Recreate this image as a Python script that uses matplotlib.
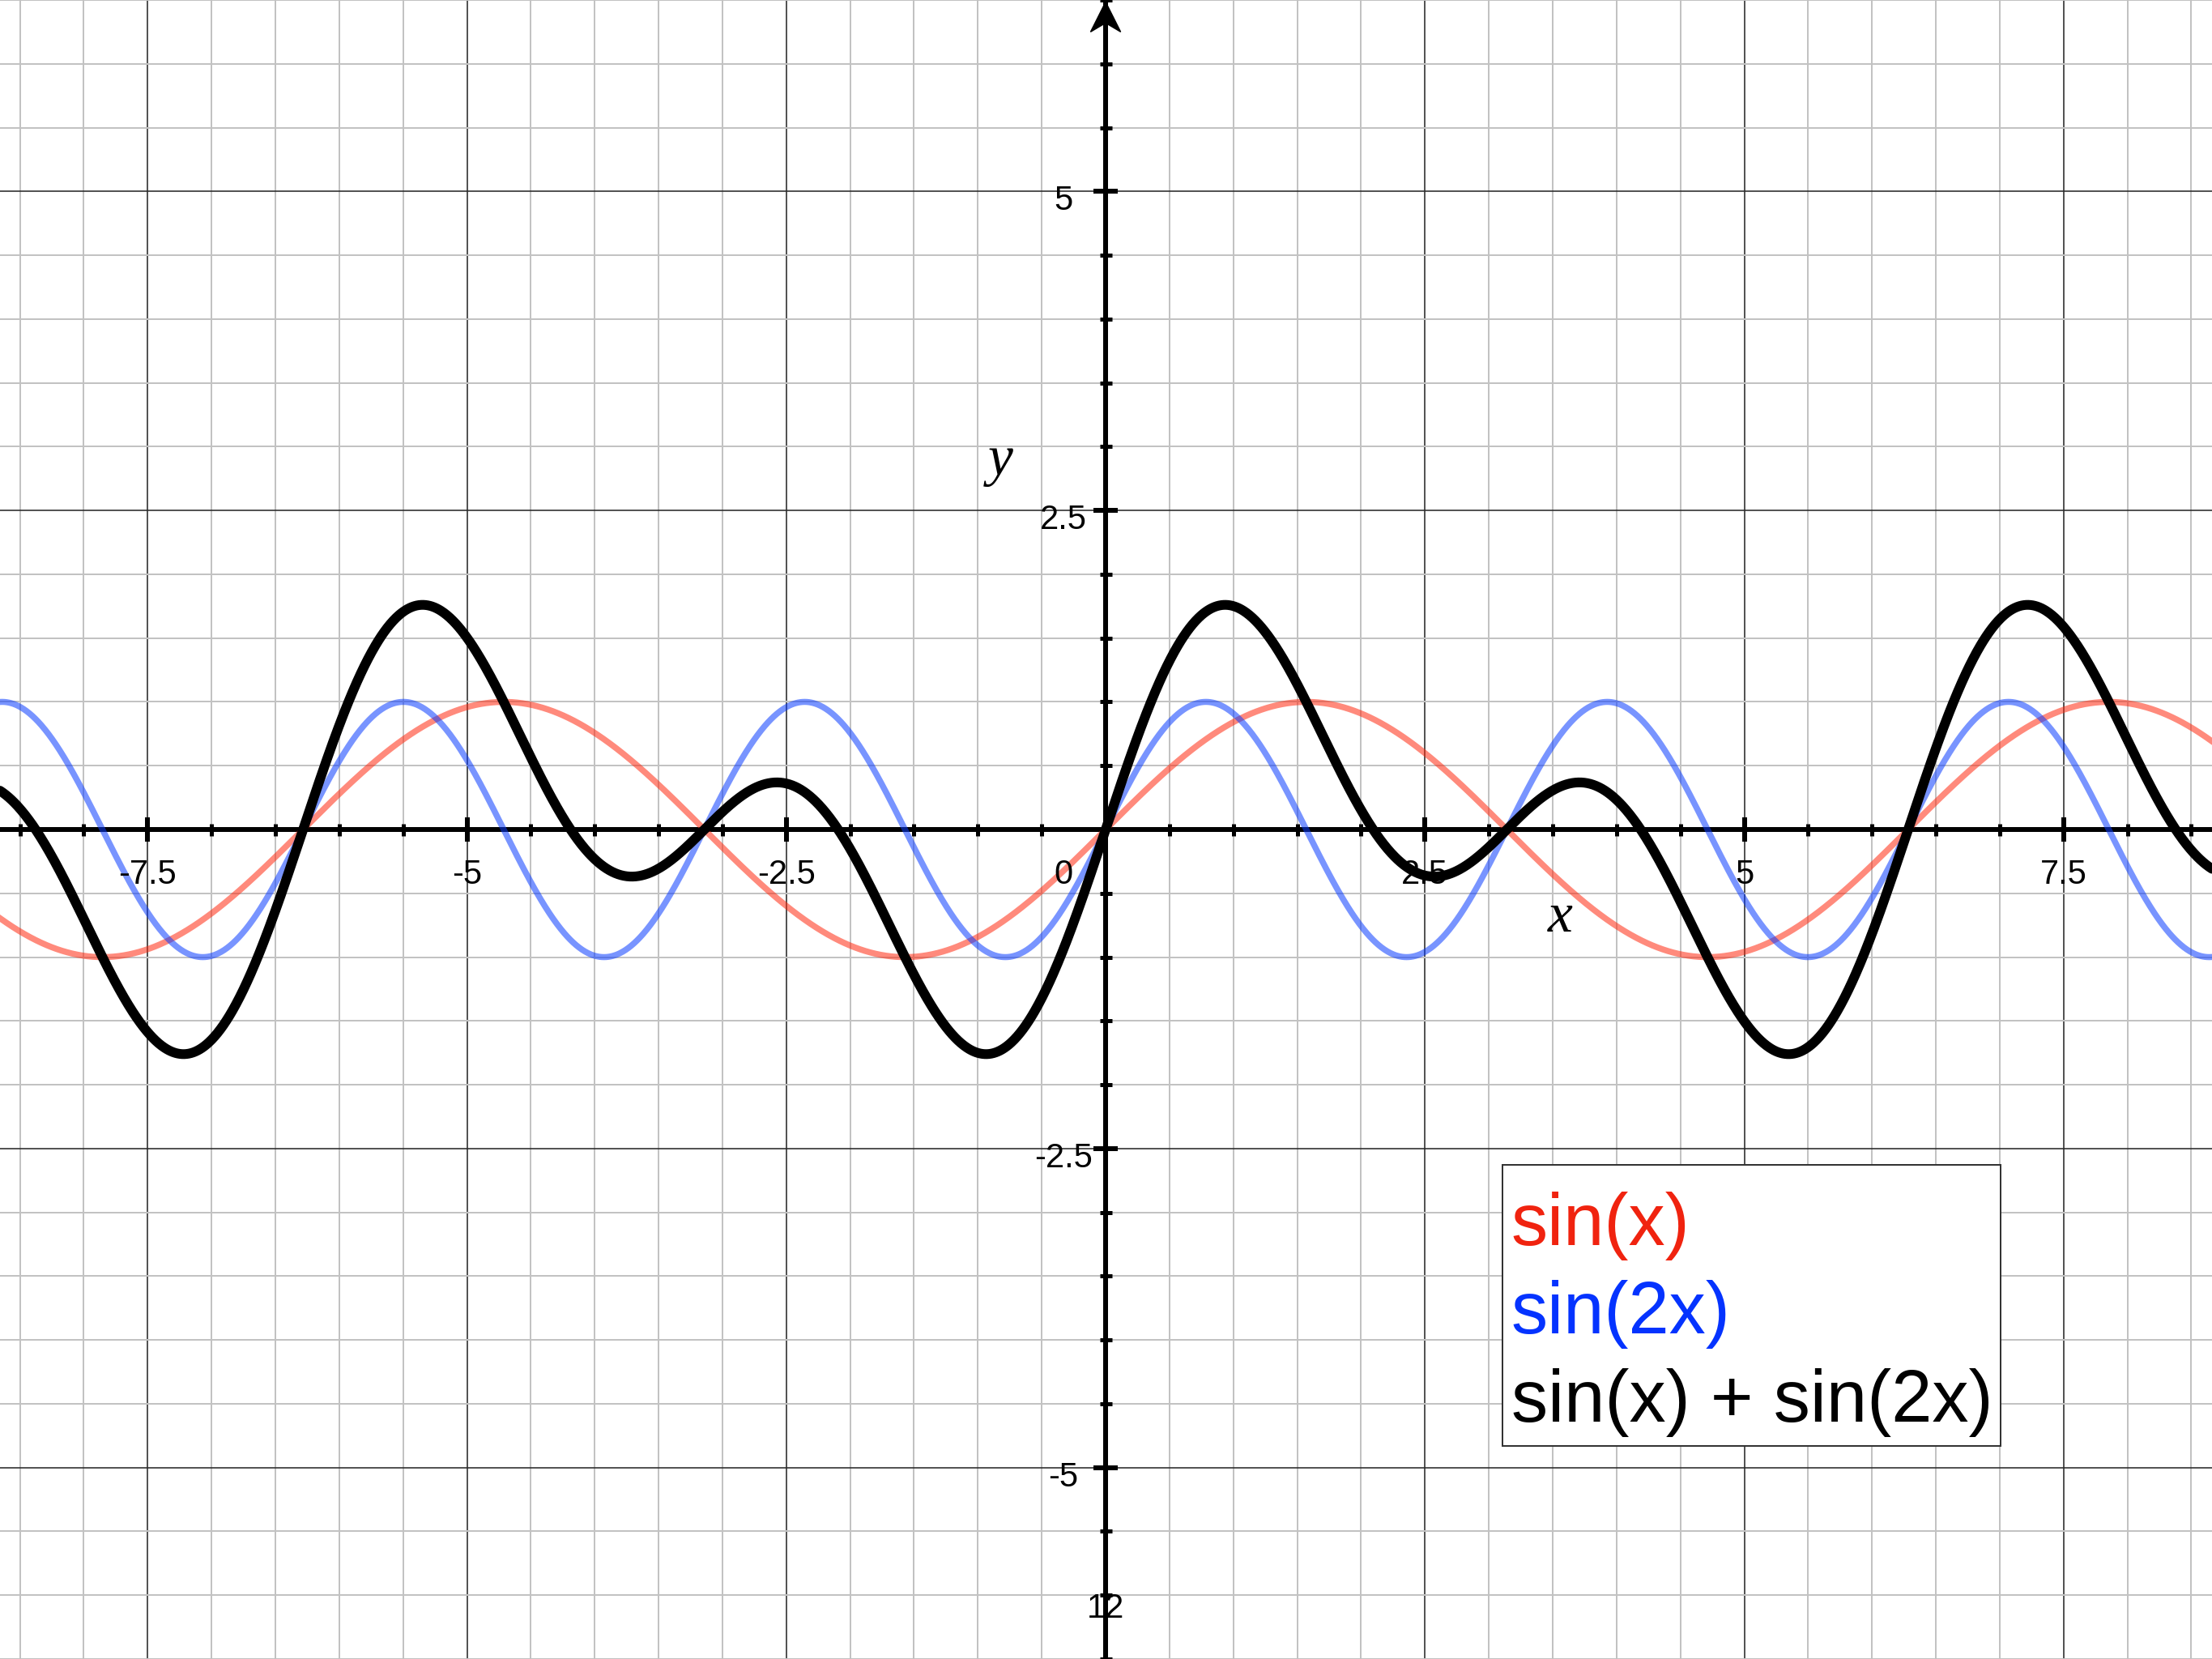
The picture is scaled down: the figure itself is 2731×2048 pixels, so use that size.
"""sin(x), sin(2x) and their sum on a graph-paper style grid."""

import matplotlib
matplotlib.use('Agg')
import matplotlib.pyplot as plt
import numpy as np
from matplotlib.patches import Polygon, Rectangle

# series definitions (the chart plots these functions)
SERIES_LABELS = ['sin(x)', 'sin(2x)', 'sin(x) + sin(2x)']
SERIES_FREQS = [[1], [2], [1, 2]]
CURVE_COLORS = ['#ff2a10', '#0a3cff', '#000000']
TEXT_COLORS = ['#f0230f', '#0433ff', '#000000']

X_TICK_LABELS = [-7.5, -5, -2.5, 2.5, 5, 7.5]
Y_TICK_LABELS = [5, 2.5, -2.5, -5]
PAGE_NUMBER = '12'

XLIM = (-8.656, 8.662)
YLIM = (-6.485, 6.485)

PX = 72 / 100  # one output pixel in points

fig = plt.figure(figsize=(27.31, 20.48), dpi=100)
ax = fig.add_axes([0, 0, 1, 1])
ax.set_xlim(*XLIM)
ax.set_ylim(*YLIM)

# graph paper grid
ax.set_xticks(np.arange(-7.5, 8.0, 2.5))
ax.set_yticks(np.arange(-5, 5.1, 2.5))
ax.set_xticks(np.arange(-8.5, 8.6, 0.5), minor=True)
ax.set_yticks(np.arange(-6.5, 6.6, 0.5), minor=True)
ax.grid(which='minor', color='#c2c2c2', linewidth=2 * PX, zorder=0)
ax.grid(which='major', color='#2a2a2a', linewidth=1.6 * PX, zorder=0.5)
ax.tick_params(which='both', length=0, labelbottom=False, labelleft=False)
for s in ax.spines.values():
    s.set_visible(False)
ax.set_axisbelow(True)

# curves
x = np.linspace(XLIM[0], XLIM[1], 3000)
for label, freqs, color in zip(SERIES_LABELS, SERIES_FREQS, CURVE_COLORS):
    y = sum(np.sin(f * x) for f in freqs)
    if len(freqs) > 1:
        ax.plot(x, y, color=color, linewidth=12 * PX, zorder=5,
                solid_capstyle='round')
    else:
        ax.plot(x, y, color=color, alpha=0.55, linewidth=7.5 * PX, zorder=4)

# coordinate axes
ax.axhline(0, color='black', linewidth=6 * PX, zorder=3)
ax.axvline(0, color='black', linewidth=6 * PX, zorder=3)

minor_x = [v for v in np.arange(-8.5, 8.6, 0.5) if v % 2.5 != 0]
minor_y = [v for v in np.arange(-6.5, 6.6, 0.5) if v % 2.5 != 0]
major_x = [v for v in np.arange(-7.5, 8.0, 2.5) if v != 0]
major_y = [v for v in np.arange(-5, 5.1, 2.5) if v != 0]
ax.plot(minor_x, [0] * len(minor_x), ls='none', marker='|', color='black',
        markersize=15 * PX, markeredgewidth=5 * PX, zorder=3)
ax.plot(major_x, [0] * len(major_x), ls='none', marker='|', color='black',
        markersize=30 * PX, markeredgewidth=6 * PX, zorder=3)
ax.plot([0] * len(minor_y), minor_y, ls='none', marker='_', color='black',
        markersize=15 * PX, markeredgewidth=5 * PX, zorder=3)
ax.plot([0] * len(major_y), major_y, ls='none', marker='_', color='black',
        markersize=30 * PX, markeredgewidth=6 * PX, zorder=3)

# arrow head on top of y axis
top = YLIM[1]
ax.add_patch(Polygon([(0, top), (-0.118, top - 0.235), (0, top - 0.165),
                      (0.118, top - 0.235)], closed=True, color='black',
                     zorder=6, clip_on=False))

# tick labels
tick_font = dict(family='Liberation Sans', fontsize=30, color='black',
                 ha='center', va='baseline', zorder=7)
for v in X_TICK_LABELS:
    ax.text(v, -0.425, f'{v:g}', **tick_font)
ax.text(-0.33, -0.425, '0', **tick_font)
for v in Y_TICK_LABELS:
    ax.text(-0.33, v - 0.146, f'{v:g}', **tick_font)
ax.text(0, -6.175, PAGE_NUMBER, **tick_font)

# axis names
name_font = dict(family='Liberation Serif', style='italic', fontsize=50,
                 ha='center', va='baseline', zorder=7)
ax.text(3.56, -0.80, 'x', **name_font)
ax.text(-0.82, 2.78, 'y', **name_font)

# legend box
ax.add_patch(Rectangle((1855 / 2731, 1 - 1785 / 2048),
                       (2470 - 1855) / 2731, (1785 - 1438) / 2048,
                       transform=ax.transAxes, facecolor='white',
                       edgecolor='#333333', linewidth=2 * PX, zorder=8))
for i, (label, color) in enumerate(zip(SERIES_LABELS, TEXT_COLORS)):
    baseline = 1537 + i * 109
    ax.text(1866 / 2731, 1 - baseline / 2048, label, color=color,
            family='Liberation Sans', fontsize=65, ha='left', va='baseline',
            transform=ax.transAxes, zorder=9)

fig.savefig('out.png', dpi=100)
plt.close(fig)
